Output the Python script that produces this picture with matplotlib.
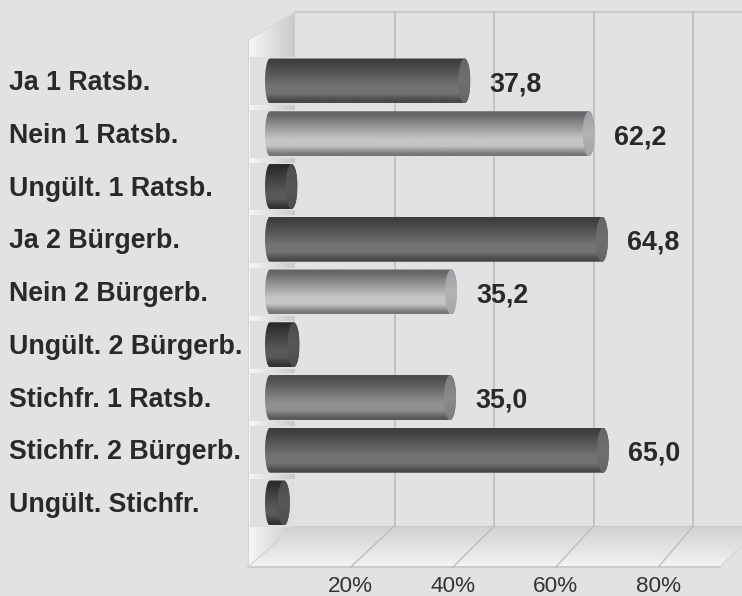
"""
Balkendiagramm Abstimmung: Ratsbegehren / Bürgerbegehren
"""

import numpy as np
import matplotlib
matplotlib.use("Agg")
import matplotlib.pyplot as plt
from matplotlib.path import Path
from matplotlib.patches import PathPatch, Polygon, FancyBboxPatch

plt.rcParams['font.family'] = ['Liberation Sans', 'DejaVu Sans']

categories = ["Ja 1 Ratsb.", "Nein 1 Ratsb.", "Ungült. 1 Ratsb.", "Ja 2 Bürgerb.",
              "Nein 2 Bürgerb.", "Ungült. 2 Bürgerb.", "Stichfr. 1 Ratsb.",
              "Stichfr. 2 Bürgerb.", "Ungült. Stichfr."]
values = [37.8, 62.2, 3.9, 64.8, 35.2, 4.3, 35.0, 65.0, 2.4]
value_labels = ["37,8", "62,2", None, "64,8", "35,2", None, "35,0", "65,0", None]
ticks = [20, 40, 60, 80]
tick_labels = ["20%", "40%", "60%", "80%"]

# Farbverlauf je Balken: oben, Mitte, unten, Deckel
DARK = ("#3e3e40", "#727375", "#47474a", "#6f7072")
LIGHT = ("#646567", "#c4c5c7", "#757678", "#b2b3b5")
MID = ("#4b4c4e", "#8f9092", "#59595b", "#8a8b8d")
BLACK = ("#2c2c2e", "#59595b", "#313133", "#57575a")
bar_styles = [DARK, LIGHT, BLACK, DARK, LIGHT, BLACK, MID, DARK, BLACK]

BG = "#e1e2e4"
GRID = "#bfc0c2"
TEXT = "#29292b"

# Pixelgeometrie der Vorlage
PX_X0, PX_PER_PCT = 295.0, 4.98
PX_Y0, PX_PER_CAT = 81.0, 52.75
W, H = 742, 596


def cx(px):
    return (px - PX_X0) / PX_PER_PCT


def cy(px):
    return (px - PX_Y0) / PX_PER_CAT


def hex_rgb(c):
    return np.array(matplotlib.colors.to_rgb(c))


def gradient_image(stops, n=64):
    """
    stops: Liste aus (Position, Farbe), senkrechter Verlauf von oben nach unten
    """
    pos = np.linspace(0, 1, n)
    xs = [s[0] for s in stops]
    rgb = np.stack([np.interp(pos, xs, [hex_rgb(s[1])[k] for s in stops]) for k in range(3)], axis=1)
    return rgb[:, None, :]


def mix(c1, c2, f):
    return matplotlib.colors.to_hex(hex_rgb(c1) * (1 - f) + hex_rgb(c2) * f)


def draw_bar(ax, y, x_end, style):
    x_start = cx(265)
    half = 22.5 / PX_PER_CAT
    a_left = 5 / PX_PER_PCT
    a_right = 6 / PX_PER_PCT

    # Umriss: links und rechts halbe Ellipsen
    t = np.linspace(np.pi / 2, 3 * np.pi / 2, 40)
    left = np.column_stack([x_start + a_left + a_left * np.cos(t), y - half * np.sin(t)])
    right = np.column_stack([x_end - a_right - a_right * np.cos(t), y + half * np.sin(t)])
    outline = np.vstack([left, right, left[:1]])

    img = gradient_image([(0, style[0]), (0.06, style[0]), (0.62, style[1]), (0.78, style[1]),
                          (0.96, style[2]), (1, style[2])])
    im = ax.imshow(img, extent=(x_start, x_end, y + half, y - half), aspect="auto", zorder=3,
                   interpolation="bilinear")
    im.set_clip_path(PathPatch(Path(outline), transform=ax.transData))

    # Deckel
    t2 = np.linspace(0, 2 * np.pi, 60)
    cap = np.column_stack([x_end - a_right + a_right * np.cos(t2), y + half * np.sin(t2)])
    cap_img = gradient_image([(0, mix(style[0], style[3], 0.75)), (0.5, style[3]), (1, mix(style[2], style[3], 0.75))])
    im = ax.imshow(cap_img, extent=(x_end - 2 * a_right, x_end, y + half, y - half), aspect="auto", zorder=4,
                   interpolation="bilinear")
    im.set_clip_path(Polygon(cap, closed=True, transform=ax.transData))


def draw_wall(ax):
    top_back, bot_back = cy(12), cy(526)
    top_front, bot_front = cy(40), cy(567)
    x_back, x_front = cx(295), cx(248)

    # linke Seitenwand
    wall = np.array([[x_front, top_front], [x_back, top_back], [x_back, bot_back], [x_front, bot_front]])
    shade = np.linspace(0, 1, 64)[None, :, None] * (hex_rgb("#c8c9cb") - hex_rgb("#f8f8f9")) + hex_rgb("#f8f8f9")
    im = ax.imshow(shade, extent=(x_front, x_back, bot_front, top_back), aspect="auto", zorder=1)
    im.set_clip_path(Polygon(wall, closed=True, transform=ax.transData))

    # Boden
    floor = np.array([[x_front, bot_front], [x_back, bot_back], [cx(742), bot_back], [cx(742), cy(545)], [cx(720), bot_front]])
    img = gradient_image([(0, "#d0d1d3"), (1, "#f3f3f4")])
    im = ax.imshow(img, extent=(x_front, cx(742), bot_front, bot_back), aspect="auto", zorder=1)
    im.set_clip_path(Polygon(floor, closed=True, transform=ax.transData))

    ax.plot([x_front, x_back], [top_front, top_back], color="#d6d7d9", lw=0.8, zorder=1.5)
    ax.plot([x_back, cx(742)], [top_back, top_back], color="#c6c7c9", lw=1.2, zorder=1.5)
    ax.plot([x_front, x_front], [top_front, bot_front], color="#d2d3d5", lw=0.8, zorder=1.5)
    ax.plot([x_back, cx(742)], [bot_back, bot_back], color="#c9cacc", lw=1, zorder=1.5)
    ax.plot([x_front, cx(720)], [bot_front, bot_front], color="#c4c5c7", lw=1.2, zorder=1.5)
    ax.plot([x_front, x_back], [bot_front, bot_back], color="#d4d5d7", lw=1, zorder=1.5)
    ax.plot([cx(720), cx(742)], [bot_front, cy(545)], color="#d4d5d7", lw=1, zorder=1.5)


def draw_wall_band(ax, y):
    # Schatten der Balken auf der Seitenwand
    x0, x1 = cx(250), cx(295)
    half = 24 / PX_PER_CAT
    ax.add_patch(FancyBboxPatch((x0, y - half), x1 - x0, 2 * half, boxstyle="square,pad=0",
                                facecolor="#dedfe1", edgecolor="none", zorder=1.2))


fig = plt.figure(figsize=(W / 100, H / 100), dpi=100, facecolor=BG)
ax = fig.add_axes([0, 0, 1, 1])
ax.set_facecolor(BG)
ax.set_xlim(cx(0), cx(W))
ax.set_ylim(cy(H), cy(0))
ax.axis("off")

draw_wall(ax)

# Gitterlinien an der Rückwand und auf dem Boden
for tick, label in zip(ticks, tick_labels):
    ax.plot([tick, tick], [cy(12), cy(526)], color=GRID, lw=1.3, zorder=2)
    front = cx(248) + tick * 1.03
    ax.plot([tick, front], [cy(526), cy(567)], color="#b9babc", lw=0.9, zorder=2)
    ax.text(front, cy(586), label, ha="center", va="center", fontsize=16.2, color="#333335")

for i, (name, val) in enumerate(zip(categories, values)):
    x_end = -3.5 + 1.024 * val
    draw_wall_band(ax, i)
    draw_bar(ax, i, x_end, bar_styles[i])
    ax.text(cx(9), i + 0.04, name, ha="left", va="center", fontsize=19.3, fontweight="bold", color=TEXT, zorder=5)
    if value_labels[i]:
        ax.annotate(value_labels[i], (x_end, i), xytext=(14, -2.5), textcoords="offset points",
                    ha="left", va="center", fontsize=19.4, fontweight="bold", color=TEXT, zorder=5)

ax.set_xlim(cx(0), cx(W))
ax.set_ylim(cy(H), cy(0))
fig.savefig("out.png", dpi=100, facecolor=BG)
